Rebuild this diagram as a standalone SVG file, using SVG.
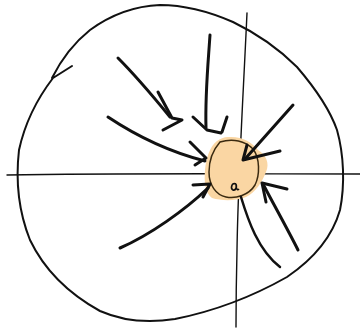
<svg xmlns="http://www.w3.org/2000/svg" width="360" height="330" viewBox="0 0 360 330">
<style>
.outline{fill:none;stroke:#111;stroke-width:2;stroke-linecap:round;stroke-linejoin:round}
.axis{fill:none;stroke:#111;stroke-width:1.4;stroke-linecap:round}
.arrow{fill:none;stroke:#111;stroke-width:3;stroke-linecap:round;stroke-linejoin:round}
.thin{fill:none;stroke:#3a2a10;stroke-width:1.5;stroke-linecap:round}
</style>
<rect width="360" height="330" fill="#fff"/>
<g id="outer-circle">
<path class="outline" d="M72,66 L53,78 C40,95 26,118 19,150 C15,185 20,215 30,240 C42,265 62,290 100,311 C125,322 150,323 175,319 C210,312 250,298 287,277 C312,260 332,238 340,210 C345,185 344,155 337,130 C330,110 315,88 297,67 C280,50 260,35 233,22 C210,12 185,5 160,5 C135,6 112,14 90,30 C75,42 62,58 52,78"/>
</g>
<g id="axes">
<path class="axis" d="M7,175 C120,173 250,174 360,174"/>
<path class="axis" d="M247,13 C243,100 238,180 237,250 C236,290 236,310 236,327"/>
</g>
<g id="center-blob">
<path fill="#fad6a3" d="M228,137 C242,136 252,142 258,150 C266,155 270,163 266,172 C262,182 256,192 246,197 C236,201 222,201 212,198 C205,193 204,182 205,170 C206,158 210,146 217,141 C220,139 224,137 228,137 Z"/>
<path class="thin" d="M220,142 C233,138 245,141 253,149 C260,158 260,175 255,185 C249,195 236,199 226,197 C216,195 209,185 209,172 C209,160 213,150 220,142"/>
<path fill="none" stroke="#111" stroke-width="1.6" d="M236,184 C232,182 230,188 233,190 C236,191 237,186 236,184 C236,188 237,191 239,189"/>
</g>
<g id="connectors">
<path class="arrow" d="M118,58 C135,75 152,95 170,117"/>
<path class="arrow" d="M158,92 L172,118 L182,120 L163,130"/>
<path class="arrow" d="M210,35 C208,65 205,95 206,128"/>
<path class="arrow" d="M193,117 L207,130 L221,133 M227,117 L222,132"/>
<path class="arrow" d="M108,117 C135,135 170,152 205,161"/>
<path class="arrow" d="M190,142 L206,158 L195,165"/>
<path class="arrow" d="M293,105 C278,122 262,140 245,159"/>
<path class="arrow" d="M247,145 L243,160 L280,151"/>
<path class="arrow" d="M298,250 C288,230 274,205 263,184"/>
<path class="arrow" d="M266,202 L262,183 L287,189"/>
<path class="arrow" d="M120,248 C150,235 185,210 208,188"/>
<path class="arrow" d="M193,185 L210,184 L203,197"/>
<path class="arrow" style="stroke-width:2.5" d="M241,197 C248,220 258,250 280,267"/>
</g>
</svg>
